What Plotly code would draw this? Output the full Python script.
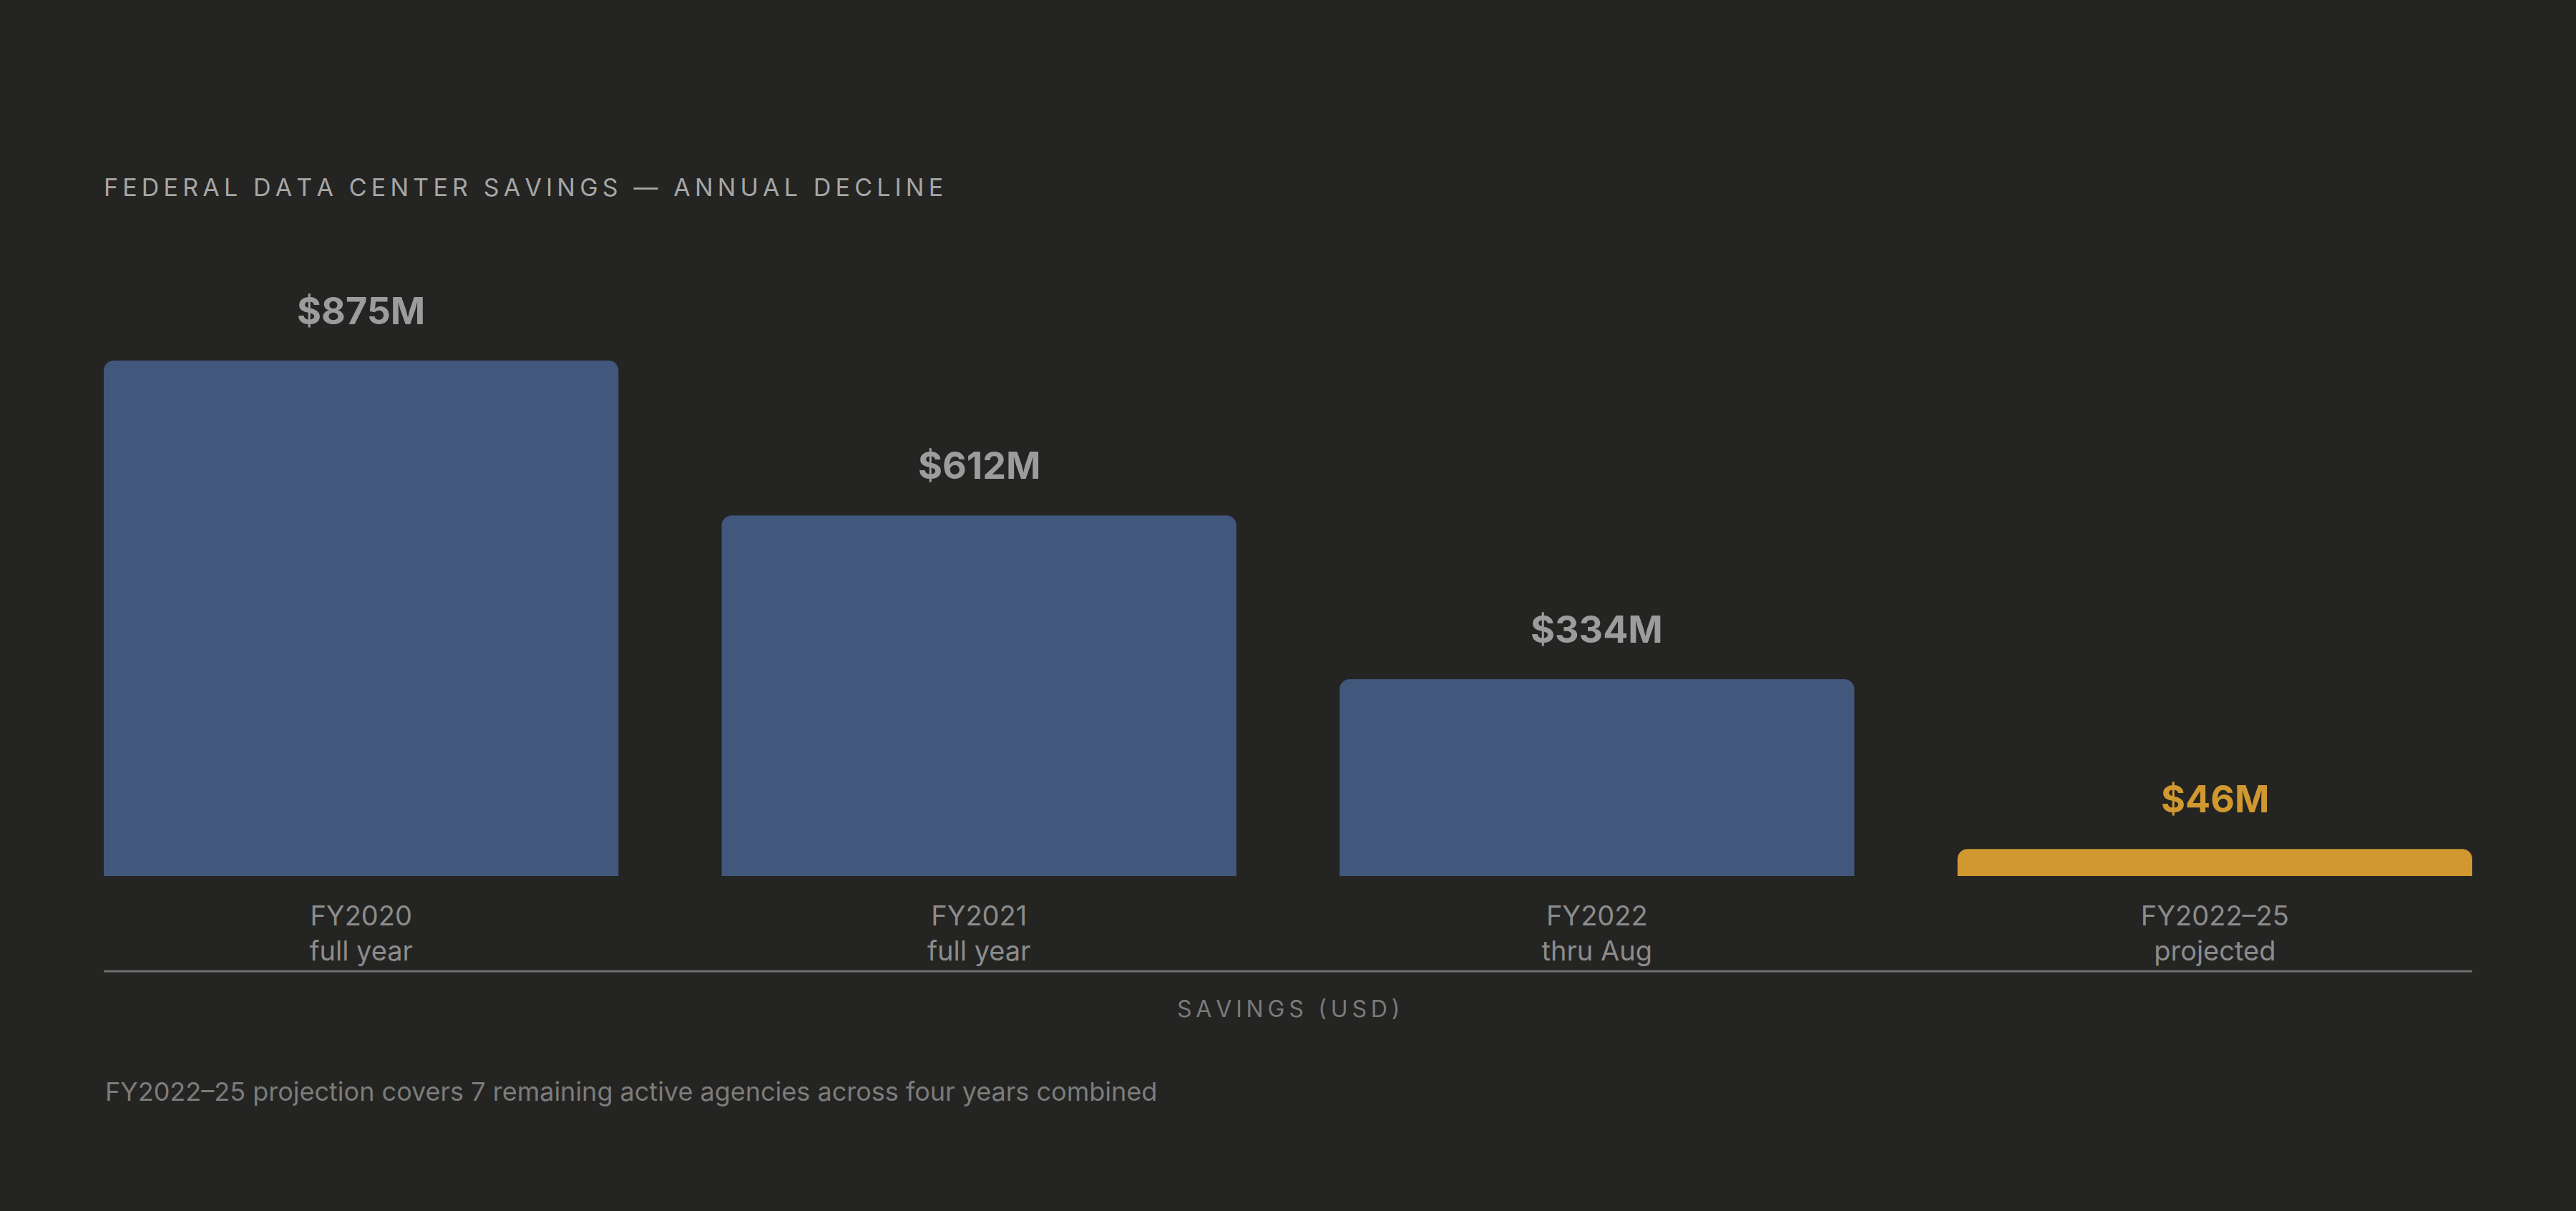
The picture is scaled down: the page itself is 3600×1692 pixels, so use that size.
import plotly.graph_objects as go

# data
periods = ["FY2020", "FY2021", "FY2022", "FY2022–25"]
notes = ["full year", "full year", "thru Aug", "projected"]
savings = [875, 612, 334, 46]
value_labels = ["$875M", "$612M", "$334M", "$46M"]
is_projection = [False, False, False, True]

BG = "#242422"
BLUE = "#42577c"
GOLD = "#d19830"
FONT = "Inter"


def spaced(s, sep="\u2009"):
    # fake letter-spacing
    return sep.join(s)


bar_colors = [GOLD if p else BLUE for p in is_projection]
label_colors = [GOLD if p else "#9c9c9c" for p in is_projection]
tick_text = [f"{p}<br>{n}" for p, n in zip(periods, notes)]

fig = go.Figure()
fig.add_trace(go.Bar(
    x=periods,
    y=savings,
    marker=dict(color=bar_colors, line=dict(width=0)),
    hoverinfo="skip",
))

for p, v, t, c in zip(periods, savings, value_labels, label_colors):
    fig.add_annotation(
        x=p, y=v, text=f"<b>{t}</b>", showarrow=False,
        yanchor="bottom", yshift=36,
        font=dict(family=FONT, size=52, color=c),
    )

fig.add_annotation(
    xref="paper", yref="paper", x=0.5, y=-0.2257, yanchor="middle",
    text=spaced("SAVINGS (USD)"), showarrow=False,
    font=dict(family=FONT, size=32, color="#7a7a7a"),
)
fig.add_annotation(
    xref="paper", yref="paper", x=0, y=-0.365, xanchor="left", yanchor="middle",
    text="FY2022–25 projection covers 7 remaining active agencies across four years combined",
    showarrow=False,
    font=dict(family=FONT, size=36, color="#7c7c7c"),
)

fig.add_shape(
    type="line", xref="paper", yref="paper", x0=0, x1=1, y0=-0.1614, y1=-0.1614,
    line=dict(color="#707070", width=3),
)

fig.update_layout(
    width=3600, height=1692,
    paper_bgcolor=BG, plot_bgcolor=BG,
    margin=dict(l=145, r=145, t=400, b=468),
    bargap=0.167,
    barcornerradius=14,
    showlegend=False,
    title=dict(
        text=spaced("FEDERAL DATA CENTER SAVINGS — ANNUAL DECLINE"),
        x=145 / 3600, xanchor="left", xref="container",
        y=1 - 262 / 1692, yanchor="middle",
        font=dict(family=FONT, size=34, color="#a6a6a6"),
    ),
    xaxis=dict(
        range=[-0.4165, 3.4165],
        tickmode="array", tickvals=periods, ticktext=tick_text,
        tickfont=dict(family=FONT, size=38, color="#8c8c8c"),
        ticklabelstandoff=30,
        showgrid=False, zeroline=False, showline=False, ticks="",
        fixedrange=True,
    ),
    yaxis=dict(
        range=[0, 1001], visible=False, fixedrange=True,
    ),
)

fig.write_html(
    "out.html",
    config={"displayModeBar": False},
    post_script="document.body.style.margin='0';document.body.style.background='#242422';",
)
